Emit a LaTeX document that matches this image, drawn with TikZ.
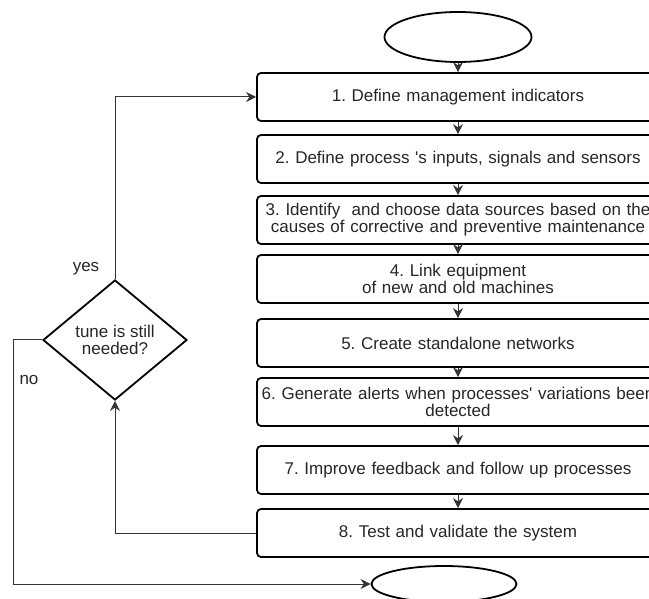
\documentclass[tikz,border=0pt]{standalone}
\usepackage{fontspec}
\setmainfont{Liberation Sans}
\usetikzlibrary{shapes, arrows, positioning, arrows.meta}
\usetikzlibrary{shapes.geometric}

\begin{document}
\frenchspacing
\begin{tikzpicture}[x=1pt, y=-1pt,
        font=\fontsize{17}{17}\selectfont,
        paso/.style={draw, line width=1.8pt, rounded corners=4pt, minimum height=48pt,
            text width=394pt, inner sep=4pt, align=center, text=black!85},
        extremo/.style={draw, ellipse, line width=1.8pt, inner sep=0pt},
        decision/.style={draw, diamond, line width=1.8pt, aspect=1.2, inner sep=0pt,
            minimum width=144pt, minimum height=120pt, align=center, text=black!85},
        flecha/.style={-{Stealth[length=10pt, width=10pt]}, line width=1pt, draw=black!80},
        etiqueta/.style={text=black!85}]
        % Marco de la figura
        \useasboundingbox (0,0) rectangle (649,599);
        \clip (0,0) rectangle (649,599);
        % Inicio y fin
        \node[extremo, minimum width=147pt, minimum height=50pt] (ini) at (458,37) {};
        \node[extremo, minimum width=145pt, minimum height=36pt] (fin) at (444,584) {};
        % Pasos del proceso
        \foreach \n/\y/\txt in {
            1/97/{1. Define management indicators},
            2/159/{2. Define process \textquotesingle s inputs, signals and sensors},
            3/220/{3. Identify~ and choose data sources based on the\\causes of corrective and preventive maintenance},
            4/279/{4. Link equipment\\of new and old machines},
            5/343/{5. Create standalone networks},
            6/402/{\makebox[394pt]{6. Generate alerts when processes\textquotesingle\ variations been}\\detected},
            7/470/{7. Improve feedback and follow up processes},
            8/533/{8. Test and validate the system}} {
            \node[paso] (b\n) at (458,\y) {\txt};
        }
        % Decision
        \node[decision] (dec) at (115,340) {tune is still\\needed?};
        % Flechas entre pasos
        \foreach \a/\b in {ini/b1, b1/b2, b2/b3, b3/b4, b4/b5, b5/b6, b6/b7, b7/b8} {
            \draw[flecha] (\a) -- (\b);
        }
        % Lazos de la decision
        \draw[flecha] (b8.west) -| (dec.south);
        \draw[flecha] (dec.north) |- (b1.west);
        \coordinate (esq) at (13,584);
        \draw[flecha] (dec.west) -| (esq) -- (fin.west);
        \node[etiqueta] (si) at (86,269) {yes};
        \node[etiqueta] (no) at (29,380) {no};
    \end{tikzpicture}
\end{document}
